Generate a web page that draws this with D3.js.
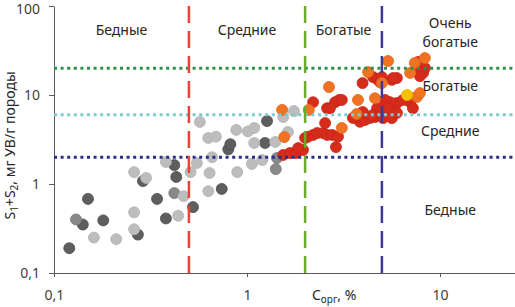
<!DOCTYPE html>
<html lang="ru">
  <head>
    <meta charset="utf-8" />
    <title>S1+S2 vs Corg</title>
    <script src="https://cdnjs.cloudflare.com/ajax/libs/d3/7.8.5/d3.min.js"></script>
    <style type="text/css">
      body { margin: 0; background: #fff; }
      svg { display: block; font-family: "Noto Sans", sans-serif; }
      .axis text { font-size: 14px; fill: #404040; font-family: "Noto Sans", sans-serif; }
      .axis path, .axis line { stroke: #595959; }
      .zone { font-size: 14px; fill: #262626; }
    </style>
  </head>
  <body>
    <script>
      // Chart dimensions
      const width = 515;
      const height = 307;
      const marginTop = 6;
      const marginBottom = 34;
      const marginLeft = 54;
      const decade = 193;

      // Data: [Corg %, S1+S2 mg/g]
      const darkGray = [[0.12,0.19],[0.141,0.35],[0.15,0.68],[0.18,0.39],[0.272,0.27],[0.289,1.08],
        [0.342,0.68],[0.38,0.41],[0.42,1.63],[0.43,1.2],[0.525,0.55],[0.74,0.88],[0.80,2.45],
        [0.82,2.8],[1.24,2.89],[1.27,5.1]];
      const midGray = [[0.13,0.40],[0.42,0.79],[1.41,1.47],[1.43,1.96]];
      const lightGray = [[0.161,0.25],[0.21,0.24],[0.26,1.36],[0.30,1.17],[0.26,0.48],[0.26,0.31],
        [0.44,0.44],[0.38,1.77],[0.47,0.73],[0.51,1.36],[0.55,1.72],[0.66,2.0],[0.64,1.33],
        [0.63,0.83],[0.89,1.36],[1.06,1.68],[1.20,1.86],[0.57,4.98],[0.63,3.29],[0.69,3.4],
        [0.88,4.05],[1.01,3.9],[1.09,4.26],[1.09,2.89],[1.40,2.97],[1.54,5.66],[1.75,6.6],[1.63,3.84]];
      const redPts = [[1.54,2.12],[1.67,2.23],[1.79,2.23],[1.95,2.41],[1.84,2.53],[2.0,3.29],[2.07,3.4],
        [2.2,3.56],[2.31,3.74],[2.48,3.74],[2.6,3.56],[2.76,3.56],[2.96,3.4],[2.89,2.6],[2.54,4.84],
        [2.6,7.1],[2.2,8.3],[2.86,8.3],[3.0,8.8],[2.69,7.1],[3.97,13.6],[4.5,15.9],[4.72,15.1],
        [4.89,14.0],[5.63,14.8],[5.98,15.5],[7.69,23.5],[8.35,20.1],[7.78,18.1],[8.17,17.7],
        [7.87,16.3],[3.85,5.0],[4.09,5.24],[4.34,5.52],[4.6,5.66],[4.89,6.44],[5.38,7.73],
        [5.98,8.13],[5.63,6.8],[7.16,9.2],[7.0,8.3],[6.43,8.8],[5.51,8.3],[5.19,8.8],[5.07,7.33],
        [5.38,7.1],[4.72,7.1],[4.6,5.9],[5.07,5.5],[5.63,5.5],[7.24,7.1],[4.43,5.9],[5.98,6.3],
        [3.1,8.8],[5.71,15.5],[5.0,15.9],[3.98,6.44],[3.54,5.52]];
      const orangePts = [[2.66,12.3],[2.09,6.8],[3.1,4.26],[1.56,3.37],[1.52,6.8],[5.38,24.1],
        [4.24,18.1],[5.0,13.6],[3.76,8.8],[4.6,9.2],[3.7,6.1],[7.41,22.9],[8.35,26],[7.0,17.7],
        [7.6,9.5],[7.87,10.5]];
      const yellowPts = [[6.75,10.0]];

      // Class boundaries
      const corgLimits = [0.5, 2, 5];
      const corgColors = ["#e8443a", "#6aab2c", "#3d3a96"];
      const s12Limits = [2, 6, 20];
      const s12Colors = ["#2a2f86", "#7ccbd0", "#2f9048"];

      const xTicks = [0.1, 1, 10];
      const yTicks = [0.1, 1, 10, 100];
      const fmt = d => String(d).replace(".", ",");

      const x = d3.scaleLog([0.1, 100], [marginLeft, marginLeft + 3 * decade]);
      const y = d3.scaleLog([0.1, 100], [height - marginBottom, marginTop]);

      const svg = d3.select("body").append("svg")
        .attr("width", width)
        .attr("height", height)
        .attr("viewBox", [0, 0, width, height]);

      // Axes
      svg.append("g")
        .attr("class", "axis")
        .attr("transform", `translate(0,${height - marginBottom})`)
        .call(d3.axisBottom(x).tickValues(xTicks).tickFormat(fmt).tickSize(4).tickSizeOuter(0).tickPadding(13));

      svg.append("g")
        .attr("class", "axis")
        .attr("transform", `translate(${marginLeft},0)`)
        .call(d3.axisLeft(y).tickValues(yTicks).tickFormat(fmt).tickSize(5).tickSizeOuter(0).tickPadding(9))
        .call(g => g.selectAll(".tick text").filter(d => d === 100).attr("dy", "0.5em"));

      // Points
      const series = [
        { data: darkGray, fill: "#5e5e5e", stroke: "#4c4c4c" },
        { data: midGray, fill: "#888888", stroke: "#7a7a7a" },
        { data: lightGray, fill: "#bdbdbd", stroke: "#b2b2b2" },
        { data: redPts, fill: "#d52c1c", stroke: "#c6261a" },
        { data: orangePts, fill: "#ef7322", stroke: "#e5661c" },
        { data: yellowPts, fill: "#f6c200", stroke: "#eab400" }
      ];
      series.forEach(s => {
        svg.append("g").selectAll("circle")
          .data(s.data)
          .join("circle")
          .attr("cx", d => x(d[0]))
          .attr("cy", d => y(d[1]))
          .attr("r", 5.5)
          .attr("fill", s.fill)
          .attr("stroke", s.stroke)
          .attr("stroke-width", 0.8);
      });

      // Boundary lines
      svg.append("g").selectAll("line")
        .data(s12Limits)
        .join("line")
        .attr("x1", marginLeft)
        .attr("x2", width)
        .attr("y1", d => y(d))
        .attr("y2", d => y(d))
        .attr("stroke", (d, i) => s12Colors[i])
        .attr("stroke-width", 3)
        .attr("stroke-dasharray", "3,3.6");

      svg.append("g").selectAll("line")
        .data(corgLimits)
        .join("line")
        .attr("x1", d => x(d))
        .attr("x2", d => x(d))
        .attr("y1", y(100))
        .attr("y2", y(0.1))
        .attr("stroke", (d, i) => corgColors[i])
        .attr("stroke-width", 2.5)
        .attr("stroke-dasharray", "17,8");

      // Zone labels
      const topY = y(47);
      const rightX = x(11.3);
      const zones = [
        { t: ["Бедные"], x: x(0.2236), y: topY },
        { t: ["Средние"], x: x(1), y: topY },
        { t: ["Богатые"], x: x(3.162), y: topY },
        { t: ["Очень", "богатые"], x: rightX, y: y(44.7) },
        { t: ["Богатые"], x: rightX, y: y(10.95) },
        { t: ["Средние"], x: rightX, y: y(3.46) },
        { t: ["Бедные"], x: rightX, y: y(0.447) }
      ];
      zones.forEach(z => {
        const t = svg.append("text")
          .attr("class", "zone")
          .attr("text-anchor", "middle")
          .attr("x", z.x)
          .attr("y", z.y - (z.t.length - 1) * 9.5)
          .attr("dy", "0.35em");
        z.t.forEach((s, i) => t.append("tspan").attr("x", z.x).attr("dy", i ? 19 : 0).text(s));
      });

      // Axis titles
      const yl = svg.append("text")
        .attr("class", "zone")
        .attr("fill", "#404040")
        .attr("text-anchor", "middle")
        .attr("transform", `translate(15,${(67 + 224) / 2}) rotate(-90)`);
      yl.append("tspan").text("S");
      yl.append("tspan").attr("font-size", 10).attr("dy", 3).text("1");
      yl.append("tspan").attr("dy", -3).text("+S");
      yl.append("tspan").attr("font-size", 10).attr("dy", 3).text("2");
      yl.append("tspan").attr("dy", -3).text(", мг УВ/г породы");

      const xl = svg.append("text")
        .attr("class", "zone")
        .attr("fill", "#404040")
        .attr("x", 312)
        .attr("y", 300);
      xl.append("tspan").text("C");
      xl.append("tspan").attr("font-size", 10).attr("dy", 3).text("орг");
      xl.append("tspan").attr("dy", -3).text(", %");
    </script>
  </body>
</html>
